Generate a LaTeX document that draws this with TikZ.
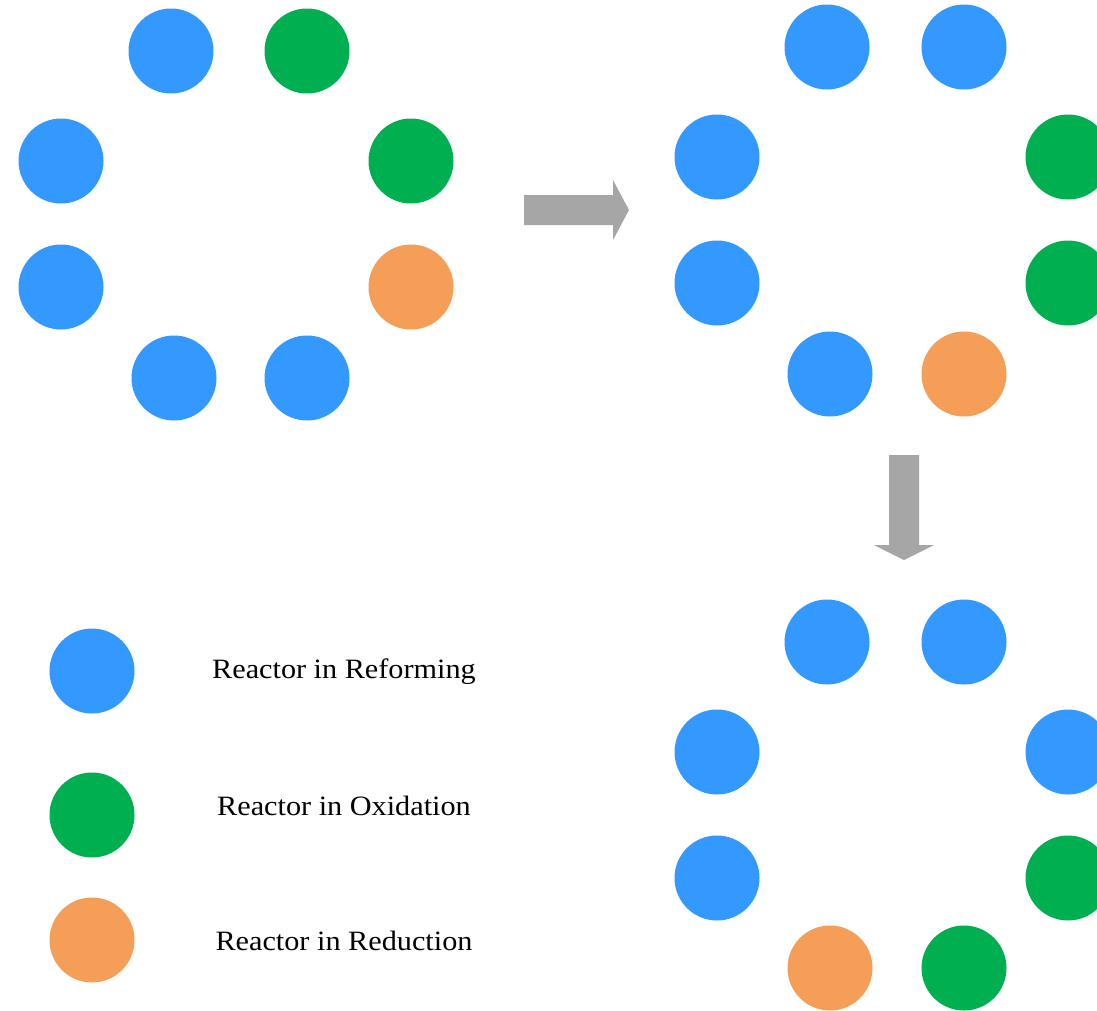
\documentclass[tikz,border=0pt]{standalone}
\usepackage{fontspec}
\setmainfont{Liberation Serif}[FakeStretch=1.08]
\definecolor{reform}{HTML}{3399FF}
\definecolor{oxid}{HTML}{00B050}
\definecolor{reduc}{HTML}{F49E58}
\definecolor{arrowgray}{HTML}{A6A6A6}
\begin{document}
\begin{tikzpicture}[x=1pt,y=-1pt,
  reactor/.style={circle,minimum size=85pt,inner sep=0pt,draw=none},
  rf/.style={reactor,fill=reform},
  ox/.style={reactor,fill=oxid},
  rd/.style={reactor,fill=reduc},
  legendtext/.style={font=\fontsize{28}{31}\selectfont,anchor=center}]
\useasboundingbox (0,0) rectangle (1097,1010);
\clip (0,0) rectangle (1097,1010);

% first state
\node[rf] (a1) at (171,51) {};
\node[ox] (a2) at (307,51) {};
\node[rf] (a3) at (61,161) {};
\node[ox] (a4) at (411,161) {};
\node[rf] (a5) at (61,287) {};
\node[rd] (a6) at (411,287) {};
\node[rf] (a7) at (174,378) {};
\node[rf] (a8) at (307,378) {};

% second state
\node[rf] (b1) at (827,47) {};
\node[rf] (b2) at (964,47) {};
\node[rf] (b3) at (717,157) {};
\node[ox] (b4) at (1068,157) {};
\node[rf] (b5) at (717,283) {};
\node[ox] (b6) at (1068,283) {};
\node[rf] (b7) at (830,374) {};
\node[rd] (b8) at (964,374) {};

% third state
\node[rf] (c1) at (827,642) {};
\node[rf] (c2) at (964,642) {};
\node[rf] (c3) at (717,752) {};
\node[rf] (c4) at (1068,752) {};
\node[rf] (c5) at (717,878) {};
\node[ox] (c6) at (1068,878) {};
\node[rd] (c7) at (830,968) {};
\node[ox] (c8) at (964,968) {};

% block arrows between states
\fill[arrowgray] (524,195) -- (613,195) -- (613,180) -- (629,210)
  -- (613,240) -- (613,225) -- (524,225) -- cycle;
\fill[arrowgray] (889,455) -- (919,455) -- (919,545) -- (934,545)
  -- (904,560) -- (874,545) -- (889,545) -- cycle;

% legend
\node[rf] (l1) at (92,671) {};
\node[ox] (l2) at (92,815) {};
\node[rd] (l3) at (92,940) {};
\node[legendtext] (t1) at (344,672) {Reactor in Reforming};
\node[legendtext] (t2) at (344,806) {Reactor in Oxidation};
\node[legendtext] (t3) at (344,941) {Reactor in Reduction};
\end{tikzpicture}
\end{document}
